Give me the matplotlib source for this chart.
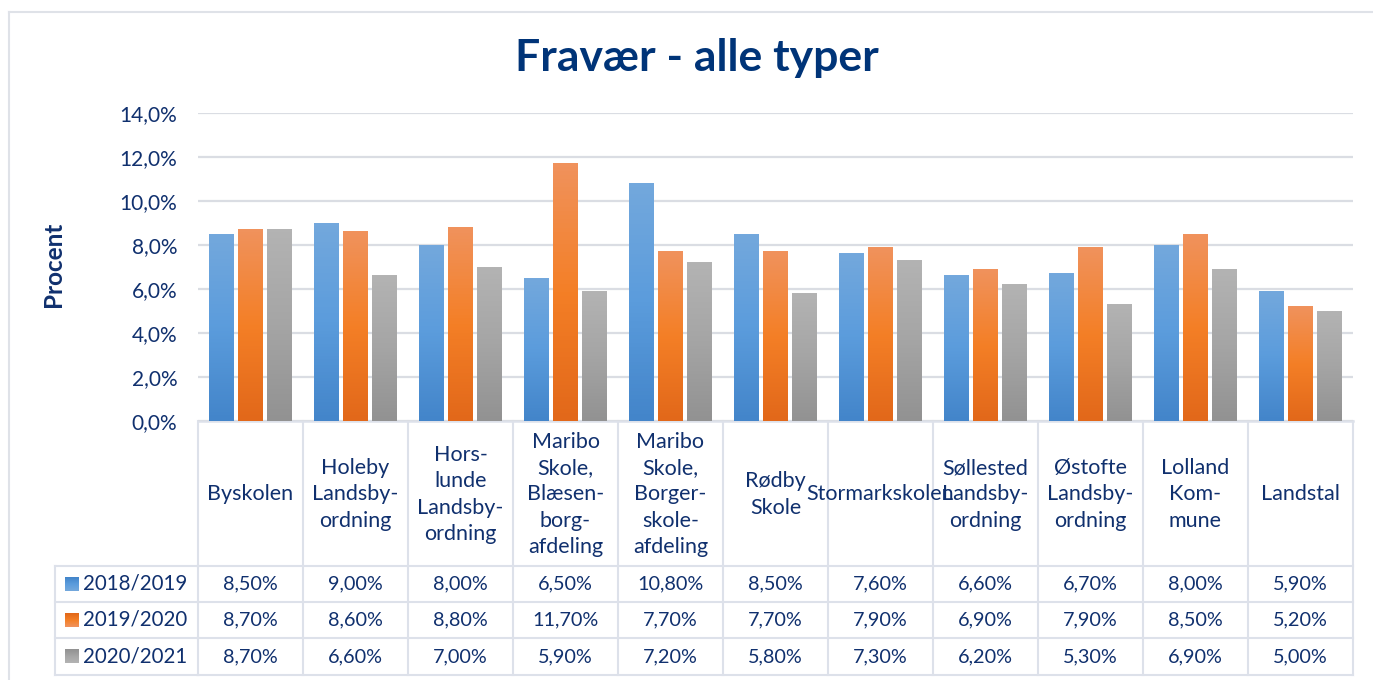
import matplotlib
matplotlib.use("Agg")
import matplotlib.pyplot as plt
import numpy as np
from matplotlib.colors import LinearSegmentedColormap
from matplotlib.transforms import blended_transform_factory

plt.rcParams['font.family'] = ['Lato', 'DejaVu Sans']

# data
skoler = ["Byskolen", "Holeby\nLandsby-\nordning", "Hors-\nlunde\nLandsby-\nordning",
          "Maribo\nSkole,\nBlæsen-\nborg-\nafdeling", "Maribo\nSkole,\nBorger-\nskole-\nafdeling",
          "Rødby\nSkole", "Stormarkskolen", "Søllested\nLandsby-\nordning",
          "Østofte\nLandsby-\nordning", "Lolland\nKom-\nmune", "Landstal"]
aar = ["2018/2019", "2019/2020", "2020/2021"]
v2018 = [8.5, 9.0, 8.0, 6.5, 10.8, 8.5, 7.6, 6.6, 6.7, 8.0, 5.9]
v2019 = [8.7, 8.6, 8.8, 11.7, 7.7, 7.7, 7.9, 6.9, 7.9, 8.5, 5.2]
v2020 = [8.7, 6.6, 7.0, 5.9, 7.2, 5.8, 7.3, 6.2, 5.3, 6.9, 5.0]
yticks = [0, 2, 4, 6, 8, 10, 12, 14]

serier = [v2018, v2019, v2020]
gradienter = [["#4385ca", "#5b9cdc", "#73a8dd"],
              ["#e2681a", "#f47f26", "#f0925c"],
              ["#929292", "#a5a5a5", "#b3b3b3"]]
tekst = "#10306e"
linje = "#dde1ea"

W, H = 1373, 680
fig = plt.figure(figsize=(W / 100, H / 100), dpi=100)

# full figure overlay in pixels for table and frame
tab = fig.add_axes([0, 0, 1, 1], zorder=0)
tab.set_xlim(0, W)
tab.set_ylim(H, 0)
tab.axis("off")

ax = fig.add_axes([198 / W, (H - 421) / H, 1155 / W, (421 - 113) / H], zorder=1)
ax.patch.set_alpha(0)
x = np.arange(len(skoler))
bw = 0.229
off = 0.276
for k, vals in enumerate(serier):
    cmap = LinearSegmentedColormap.from_list("g%d" % k, gradienter[k])
    bars = ax.bar(x + (k - 1) * off, vals, width=bw, color=gradienter[k][1], zorder=2)
    for b in bars:
        x0, w, h = b.get_x(), b.get_width(), b.get_height()
        ax.imshow(np.linspace(0, 1, 64).reshape(-1, 1), cmap=cmap, origin="lower",
                  extent=[x0, x0 + w, 0, h], aspect="auto", zorder=3)
ax.set_xlim(-0.5, len(skoler) - 0.5)
ax.set_ylim(0, 14)
ax.set_yticks(yticks)
ax.set_yticklabels([f"{t:.1f}%".replace(".", ",") for t in yticks], color=tekst, fontsize=15)
ax.set_xticks([])
ax.tick_params(axis="y", length=0, pad=15)
ax.grid(axis="y", color="#dadde3", linewidth=1.6, zorder=0)
for s in ax.spines.values():
    s.set_visible(False)
ax.set_ylabel("Procent", fontsize=17.5, fontweight="bold", color=tekst)
ax.yaxis.set_label_coords(-0.115, 0.51)

fig.text(697 / W, 1 - 58 / H, "Fravær - alle typer", ha="center", va="center",
         fontsize=32, fontweight="bold", color="#003478")

# frame
tab.plot([9, W], [12, 12], color="#dfe2e8", lw=1.5)
tab.plot([9, 9], [12, H], color="#dfe2e8", lw=1.5)

# data table
tr = blended_transform_factory(ax.transData, tab.transData)
n = len(skoler)
top, hdr, bot = 421, 566, 675
rows = [566, 602, 638, 675]
for i in range(n + 1):
    tab.plot([i - 0.5, i - 0.5], [top, bot], color=linje, lw=1.5, transform=tr)
tab.plot([-0.5, n - 0.5], [top, top], color=linje, lw=1.8, transform=tr)
for r in rows:
    tab.plot([55, 198], [r, r], color=linje, lw=1.5)
    tab.plot([-0.5, n - 0.5], [r, r], color=linje, lw=1.5, transform=tr)
tab.plot([55, 55], [hdr, bot], color=linje, lw=1.5)

for i, navn in enumerate(skoler):
    tab.text(i, (top + hdr) / 2 + 1, navn, ha="center", va="center", fontsize=15.5,
             color=tekst, linespacing=1.4, transform=tr)

for k, vals in enumerate(serier):
    yc = (rows[k] + rows[k + 1]) / 2
    cmap = LinearSegmentedColormap.from_list("l%d" % k, gradienter[k])
    tab.imshow(np.linspace(0, 1, 16).reshape(-1, 1), cmap=cmap, origin="upper",
               extent=[65, 79, yc + 7, yc - 7], aspect="auto", zorder=3)
    tab.text(83, yc, aar[k], ha="left", va="center", fontsize=14.8, color=tekst)
    for i, v in enumerate(vals):
        tab.text(i, yc, f"{v:.2f}%".replace(".", ","), ha="center", va="center",
                 fontsize=14.3, color=tekst, transform=tr)
tab.set_xlim(0, W)
tab.set_ylim(H, 0)

fig.savefig("out.png", dpi=100)
